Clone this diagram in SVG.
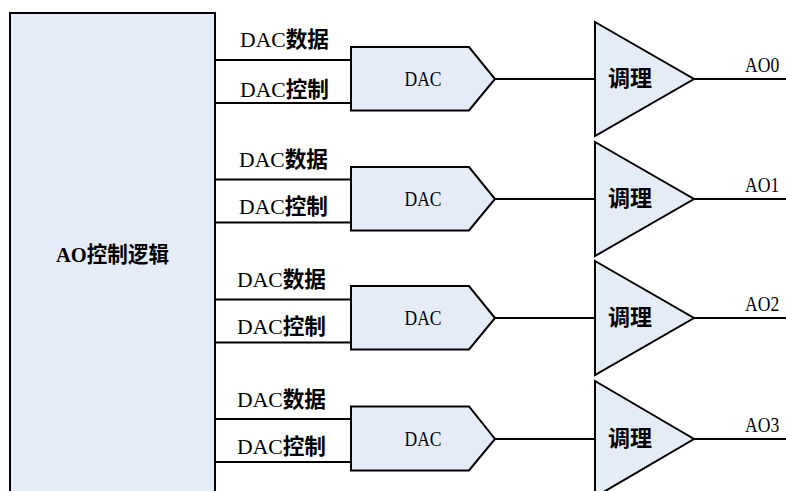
<svg xmlns="http://www.w3.org/2000/svg" width="786" height="491" viewBox="0 0 786 491">
  <style>
    .box { fill: #E6ECF7; stroke: #000; stroke-width: 2; stroke-linejoin: miter; }
    .wire { stroke: #000; stroke-width: 2; fill: none; }
    .t { font-family: "Liberation Serif", "Noto Sans CJK SC", serif; font-size: 22px; fill: #000; }
    .h { font-weight: bold; }
    .c { text-anchor: middle; }
  </style>
  <rect width="786" height="491" fill="#fff"/>

  <g id="ao-logic">
    <rect class="box" x="10" y="13" width="205" height="500"/>
    <text class="t c" x="112.5" y="262" font-size="21" textLength="113" lengthAdjust="spacingAndGlyphs"><tspan font-weight="bold">AO</tspan><tspan class="h">控制逻辑</tspan></text>
  </g>

  <g id="connectors">
    <!-- row 0, T=79 -->
    <line class="wire" x1="215" y1="60" x2="351" y2="60"/>
    <line class="wire" x1="215" y1="103" x2="351" y2="103"/>
    <line class="wire" x1="495" y1="79" x2="595" y2="79"/>
    <line class="wire" x1="694" y1="79" x2="786" y2="79"/>
    <!-- row 1, T=199 -->
    <line class="wire" x1="215" y1="179.5" x2="351" y2="179.5"/>
    <line class="wire" x1="215" y1="222.5" x2="351" y2="222.5"/>
    <line class="wire" x1="495" y1="199" x2="595" y2="199"/>
    <line class="wire" x1="694" y1="199" x2="786" y2="199"/>
    <!-- row 2, T=318 -->
    <line class="wire" x1="215" y1="299.5" x2="351" y2="299.5"/>
    <line class="wire" x1="215" y1="342.5" x2="351" y2="342.5"/>
    <line class="wire" x1="495" y1="318" x2="595" y2="318"/>
    <line class="wire" x1="694" y1="318" x2="786" y2="318"/>
    <!-- row 3, T=439 -->
    <line class="wire" x1="215" y1="419" x2="351" y2="419"/>
    <line class="wire" x1="215" y1="462" x2="351" y2="462"/>
    <line class="wire" x1="495" y1="439" x2="595" y2="439"/>
    <line class="wire" x1="694" y1="439" x2="786" y2="439"/>

    <text class="t" x="240" y="47" textLength="89" lengthAdjust="spacingAndGlyphs">DAC<tspan class="h">数据</tspan></text>
    <text class="t" x="240" y="97" textLength="89" lengthAdjust="spacingAndGlyphs">DAC<tspan class="h">控制</tspan></text>
    <text class="t" x="239" y="167" textLength="89" lengthAdjust="spacingAndGlyphs">DAC<tspan class="h">数据</tspan></text>
    <text class="t" x="239" y="214" textLength="89" lengthAdjust="spacingAndGlyphs">DAC<tspan class="h">控制</tspan></text>
    <text class="t" x="237" y="287" textLength="89" lengthAdjust="spacingAndGlyphs">DAC<tspan class="h">数据</tspan></text>
    <text class="t" x="237" y="334" textLength="89" lengthAdjust="spacingAndGlyphs">DAC<tspan class="h">控制</tspan></text>
    <text class="t" x="237" y="407" textLength="89" lengthAdjust="spacingAndGlyphs">DAC<tspan class="h">数据</tspan></text>
    <text class="t" x="237" y="454" textLength="89" lengthAdjust="spacingAndGlyphs">DAC<tspan class="h">控制</tspan></text>

    <text class="t" transform="translate(745,72) scale(0.8,1)" font-size="24">AO0</text>
    <text class="t" transform="translate(745,192) scale(0.8,1)" font-size="24">AO1</text>
    <text class="t" transform="translate(745,311) scale(0.8,1)" font-size="24">AO2</text>
    <text class="t" transform="translate(745,432) scale(0.8,1)" font-size="24">AO3</text>
  </g>

  <g id="dac-0">
    <polygon class="box" points="351,47 469,47 495,79 469,110.5 351,110.5"/>
    <text class="t c" x="423" y="86" font-size="20" textLength="37" lengthAdjust="spacingAndGlyphs">DAC</text>
  </g>
  <g id="dac-1">
    <polygon class="box" points="351,167 469,167 495,199 469,230.5 351,230.5"/>
    <text class="t c" x="423" y="206" font-size="20" textLength="37" lengthAdjust="spacingAndGlyphs">DAC</text>
  </g>
  <g id="dac-2">
    <polygon class="box" points="351,286 469,286 495,318 469,349.5 351,349.5"/>
    <text class="t c" x="423" y="325" font-size="20" textLength="37" lengthAdjust="spacingAndGlyphs">DAC</text>
  </g>
  <g id="dac-3">
    <polygon class="box" points="351,406.5 469,406.5 495,439 469,470.5 351,470.5"/>
    <text class="t c" x="423" y="446" font-size="20" textLength="37" lengthAdjust="spacingAndGlyphs">DAC</text>
  </g>

  <g id="cond-0">
    <polygon class="box" points="595,22 694,79 595,136"/>
    <text class="t c h" x="630" y="86">调理</text>
  </g>
  <g id="cond-1">
    <polygon class="box" points="595,142 694,199 595,256"/>
    <text class="t c h" x="630" y="206">调理</text>
  </g>
  <g id="cond-2">
    <polygon class="box" points="595,261 694,318 595,375"/>
    <text class="t c h" x="630" y="325">调理</text>
  </g>
  <g id="cond-3">
    <polygon class="box" points="595,381 694,439 595,497"/>
    <text class="t c h" x="630" y="446">调理</text>
  </g>
</svg>
